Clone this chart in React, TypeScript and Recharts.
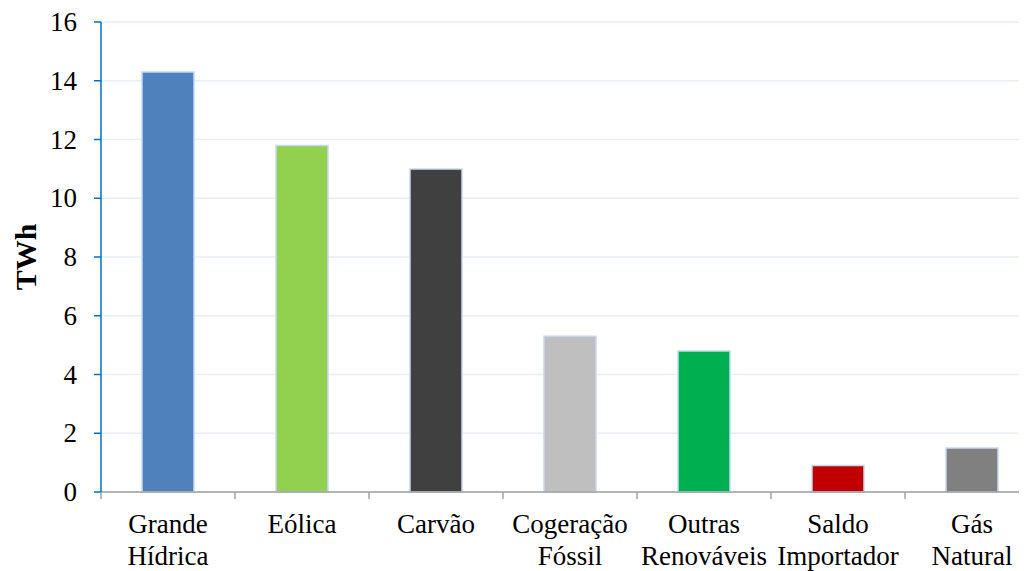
import { BarChart, Bar, XAxis, YAxis, CartesianGrid, Cell } from "recharts";

const categories = [
  ["Grande", "Hídrica"],
  ["Eólica"],
  ["Carvão"],
  ["Cogeração", "Fóssil"],
  ["Outras", "Renováveis"],
  ["Saldo", "Importador"],
  ["Gás", "Natural"],
];
const values = [14.3, 11.8, 11.0, 5.3, 4.8, 0.9, 1.5];
const barColors = ["#4f81bd", "#92d050", "#404040", "#bfbfbf", "#00b050", "#c00000", "#808080"];
const yTicks = [0, 2, 4, 6, 8, 10, 12, 14, 16];

const data = categories.map((c, i) => ({ name: c.join(" "), value: values[i], idx: i }));

const CHART_W = 1031;
const CHART_H = 563;
const Y_W = 93;
const BAND = (CHART_W - Y_W) / categories.length;
const FONT = "Liberation Serif, Times New Roman, serif";

function XTick(props: any) {
  const { x, y, index } = props;
  const lines = categories[index] || [];
  const left = x - BAND / 2;
  return (
    <g>
      <line x1={left} x2={left} y1={y - 8} y2={y - 1} stroke="#a0a0a0" strokeWidth={1.5} />
      {index === categories.length - 1 && (
        <line x1={left + BAND} x2={left + BAND} y1={y - 8} y2={y - 1} stroke="#a0a0a0" strokeWidth={1.5} />
      )}
      {lines.map((l, i) => (
        <text
          key={i}
          x={x}
          y={y + 33 + i * 32}
          textAnchor="middle"
          style={{ fontFamily: FONT, fontSize: 27, fill: "#000" }}
        >
          {l}
        </text>
      ))}
    </g>
  );
}

function YTick(props: any) {
  const { x, y, payload } = props;
  return (
    <text
      x={x - 7}
      y={y + 9}
      textAnchor="end"
      style={{ fontFamily: FONT, fontSize: 27, fill: "#000" }}
    >
      {payload.value}
    </text>
  );
}

function renderYLabel() {
  return (
    <g transform="translate(28, 249) rotate(-90)">
      <text
        x={0}
        y={0}
        textAnchor="middle"
        style={{ fontFamily: FONT, fontSize: 30, fontWeight: "bold", fill: "#000" }}
      >
        TWh
      </text>
    </g>
  );
}

export default function App() {
  return (
    <div style={{ width: 1019, height: 563, overflow: "hidden", fontFamily: FONT }}>
      <BarChart
        width={CHART_W}
        height={CHART_H}
        data={data}
        margin={{ top: 14, right: 0, bottom: 0, left: 0 }}
        barSize={52}
        style={{ fontFamily: FONT }}
      >
        <CartesianGrid vertical={false} stroke="#e6eef8" strokeWidth={1.5} />
        <XAxis
          dataKey="name"
          height={79}
          stroke="#a0a0a0"
          strokeWidth={1.5}
          tickLine={false}
          tick={<XTick />}
          interval={0}
        />
        <YAxis
          width={Y_W}
          domain={[0, 16]}
          ticks={yTicks}
          interval={0}
          stroke="#0070c0"
          strokeWidth={1.5}
          tickSize={7}
          tickMargin={10}
          tick={<YTick />}
          label={{ content: renderYLabel }}
        />
        <Bar dataKey="value" isAnimationActive={false} stroke="#c6d9f1" strokeWidth={1.5}>
          {data.map((d) => (
            <Cell key={d.idx} fill={barColors[d.idx]} />
          ))}
        </Bar>
      </BarChart>
    </div>
  );
}
